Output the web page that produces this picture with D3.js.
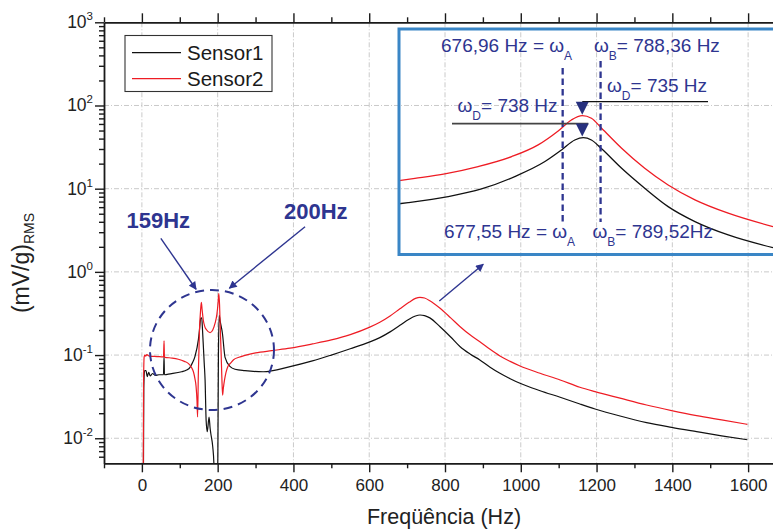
<!DOCTYPE html>
<html><head><meta charset="utf-8">
<script src="https://cdn.jsdelivr.net/npm/d3@7"></script>
<style>
body{margin:0;background:#fff}
svg{display:block}
text{font-family:"Liberation Sans",Arial,Helvetica,sans-serif}
</style>
</head><body>
<svg id="chart" width="773" height="529"></svg>
<script>
// ---- Spectrum data (frequency in Hz, amplitude in (mV/g) RMS) ----
const sensor1Freq = [4,5,7,11,14,18,22,28,35,45,57,58.5,59.5,61,70,105,118,127,133,140,149,152,155.4,158,160,162.3,164.5,166.8,169.5,172.5,177.3,180,181.8,187,190,191,199,200.5,202,204,207,212.5,219.5,233,246,272,320,391,450,500,550,600,628,655,681,705,722,734,746,760,787,815,840,866,892,918,945,972,998,1051,1104,1156,1196,1262,1332,1398,1464,1530,1598];
const sensor1Amp  = [0.003,0.04,0.065,0.065,0.055,0.062,0.056,0.06,0.057,0.058,0.058,0.097,0.058,0.058,0.059,0.063,0.066,0.0713,0.08,0.096,0.152,0.2,0.277,0.28,0.2,0.126,0.08,0.05,0.0166,0.012,0.018,0.0133,0.0115,0.0079,0.005,0.003,0.003,0.006,0.1,0.3,0.25,0.183,0.094,0.0726,0.0675,0.065,0.063,0.0726,0.085,0.1,0.119,0.143,0.162,0.19,0.228,0.27,0.295,0.303,0.298,0.28,0.219,0.165,0.126,0.103,0.0873,0.072,0.0604,0.052,0.0458,0.0373,0.0311,0.0258,0.0225,0.0185,0.0154,0.0135,0.012,0.0107,0.0096];

const sensor2Freq = [3.5,4.5,6,8,10,13,20,40,57,58.5,59.5,61,80,96,112,123,131,136,140,143,145.5,147,149,152,155,157,159,162,166,171,180,187,193,198,201,203,205,207,209,211,213,215,218,222,227,234,242,256,272,300,343,391,450,500,550,600,628,655,681,705,722,734,746,760,787,815,840,866,892,918,945,972,998,1051,1104,1156,1196,1262,1332,1398,1464,1530,1598];
const sensor2Amp  = [0.003,0.05,0.095,0.1,0.097,0.101,0.097,0.096,0.095,0.148,0.095,0.094,0.092,0.089,0.084,0.079,0.071,0.063,0.052,0.042,0.028,0.018,0.06,0.2,0.35,0.43,0.35,0.264,0.22,0.2,0.186,0.2,0.24,0.31,0.42,0.55,0.4,0.2,0.11,0.055,0.033,0.04,0.05,0.062,0.073,0.08,0.088,0.094,0.099,0.106,0.113,0.121,0.136,0.152,0.176,0.215,0.248,0.295,0.36,0.43,0.48,0.495,0.485,0.45,0.365,0.28,0.219,0.175,0.145,0.118,0.0975,0.084,0.074,0.0604,0.0502,0.041,0.0363,0.0303,0.0251,0.0215,0.0187,0.0166,0.0147];

// Detail view of the main resonance
const detailFreq1 = [195,222,340,438,536,625,674,713,738,762,792,851,919,988,1067,1165,1297];
const detailAmp1  = [0.0697,0.0715,0.0818,0.097,0.128,0.179,0.232,0.290,0.306,0.290,0.238,0.154,0.0986,0.0654,0.0468,0.0347,0.0261];
const detailFreq2 = [195,242,330,428,527,605,664,703,735,762,792,851,919,988,1067,1165,1297];
const detailAmp2  = [0.117,0.123,0.136,0.160,0.200,0.260,0.355,0.454,0.5,0.472,0.377,0.241,0.154,0.106,0.076,0.0564,0.0418];

// Half-power points and damped natural frequencies [sensor1, sensor2]
const omegaA = [677.55, 676.96];
const omegaB = [789.52, 788.36];
const omegaD = [738, 735];

const xTicks = [0,200,400,600,800,1000,1200,1400,1600];
const xMinor = [-100,100,300,500,700,900,1100,1300,1500,1700];
const yExponents = [-2,-1,0,1,2,3];
const seriesNames = ["Sensor1","Sensor2"];
const seriesColors = ["#111111","#ee1c24"];

const navy = "#2e3590";
const svg = d3.select("#chart");
svg.append("rect").attr("width",773).attr("height",529).attr("fill","#fff");

// ---- scales ----
const x = d3.scaleLinear().domain([-100,1700]).range([104,786]);
const y = d3.scaleLog().domain([0.005,1000]).range([463.3,22.3]);
const plotL = x.range()[0], plotR = x.range()[1], plotT = y.range()[1], plotB = y.range()[0];

// Detail panel scales
const inset = {x:399, y:29, w:380, h:225.5};
const ix = d3.scaleLinear().domain([195,1297]).range([399,773]);
const iy = d3.scaleLog().domain([0.0224,3.47]).range([254.5,29]);

const defs = svg.append("defs");
defs.append("clipPath").attr("id","plotClip").append("rect")
  .attr("x",plotL).attr("y",plotT).attr("width",plotR-plotL).attr("height",plotB-plotT);
defs.append("clipPath").attr("id","insetClip").append("rect")
  .attr("x",inset.x).attr("y",inset.y).attr("width",inset.w).attr("height",inset.h);
defs.append("marker").attr("id","arrow").attr("viewBox","0 0 10 10")
  .attr("refX",9).attr("refY",5).attr("markerWidth",10).attr("markerHeight",8)
  .attr("markerUnits","userSpaceOnUse").attr("orient","auto")
  .append("path").attr("d","M0,0 L10,5 L0,10 Z").attr("fill",navy);

// detail panel background
svg.append("rect").attr("x",inset.x).attr("y",inset.y).attr("width",inset.w).attr("height",inset.h).attr("fill","#fff");

// ---- grid ----
const grid = svg.append("g").attr("stroke","#c4c4c4").attr("stroke-width",0.9).attr("stroke-dasharray","5,2,1,2");
grid.selectAll("line.v").data(xTicks).join("line")
  .attr("x1",d=>x(d)).attr("x2",d=>x(d)).attr("y1",plotT).attr("y2",plotB);
grid.selectAll("line.h").data(yExponents.slice(0,-1)).join("line")
  .attr("x1",plotL).attr("x2",plotR).attr("y1",d=>y(Math.pow(10,d))).attr("y2",d=>y(Math.pow(10,d)));

// ---- curves ----
const line = d3.line().x(d=>x(d[0])).y(d=>y(Math.max(d[1],1e-4))).curve(d3.curveMonotoneX);
const curves = svg.append("g").attr("clip-path","url(#plotClip)");
const mainSeries = [d3.zip(sensor1Freq,sensor1Amp), d3.zip(sensor2Freq,sensor2Amp)];
mainSeries.forEach((s,i)=>{
  curves.append("path").datum(s).attr("d",line).attr("fill","none")
    .attr("stroke",seriesColors[i]).attr("stroke-width",1.2).attr("stroke-linejoin","round");
});

// ---- axes ----
function styleAxis(g){
  g.select(".domain").attr("stroke","#1a1a1a").attr("stroke-width",1.8);
  g.selectAll(".tick line").attr("stroke","#1a1a1a").attr("stroke-width",1.4);
}
const xb = svg.append("g").attr("transform",`translate(0,${plotB})`)
  .call(d3.axisBottom(x).tickValues(xTicks).tickSize(9).tickSizeOuter(0).tickPadding(7).tickFormat(d3.format("d")));
styleAxis(xb);
xb.selectAll(".tick text").attr("font-size",17).attr("fill","#222").attr("font-family","Liberation Sans, Arial, sans-serif");
const xbm = svg.append("g").attr("transform",`translate(0,${plotB})`)
  .call(d3.axisBottom(x).tickValues(xMinor).tickSize(5).tickSizeOuter(0).tickFormat(""));
styleAxis(xbm); xbm.select(".domain").remove();

const xt = svg.append("g").attr("transform",`translate(0,${plotT})`)
  .call(d3.axisTop(x).tickValues(xTicks).tickSize(9).tickSizeOuter(0).tickFormat(""));
styleAxis(xt);
const xtm = svg.append("g").attr("transform",`translate(0,${plotT})`)
  .call(d3.axisTop(x).tickValues(xMinor).tickSize(5).tickSizeOuter(0).tickFormat(""));
styleAxis(xtm); xtm.select(".domain").remove();

const yl = svg.append("g").attr("transform",`translate(${plotL},0)`)
  .call(d3.axisLeft(y).tickValues(yExponents.map(e=>Math.pow(10,e))).tickSize(9).tickSizeOuter(0).tickFormat(""));
styleAxis(yl);
const minorY = [];
yExponents.slice(0,-1).forEach(e=>{ for(let k=2;k<=9;k++) minorY.push(k*Math.pow(10,e)); });
[0.006,0.007,0.008,0.009].forEach(v=>minorY.push(v));
const ylm = svg.append("g").attr("transform",`translate(${plotL},0)`)
  .call(d3.axisLeft(y).tickValues(minorY).tickSize(5).tickSizeOuter(0).tickFormat(""));
styleAxis(ylm); ylm.select(".domain").remove();

// y tick labels as powers of ten
const ylab = svg.append("g").attr("font-size",17.5).attr("fill","#222");
yExponents.forEach(e=>{
  const t = ylab.append("text").attr("x",plotL-11).attr("y",y(Math.pow(10,e))+6).attr("text-anchor","end");
  t.append("tspan").text("10");
  t.append("tspan").attr("font-size",11.5).attr("dy",-8).text(e);
});

// axis titles
svg.append("text").attr("x",444).attr("y",524).attr("text-anchor","middle")
  .attr("font-size",21.5).attr("fill","#222").text("Freqüência (Hz)");
const yt = svg.append("text").attr("transform","translate(29,263) rotate(-90)")
  .attr("text-anchor","middle").attr("font-size",23).attr("fill","#222");
yt.append("tspan").text("(mV/g)");
yt.append("tspan").attr("font-size",14).attr("dy",5).text("RMS");

// ---- legend ----
const lg = svg.append("g");
lg.append("rect").attr("x",125).attr("y",35.5).attr("width",147).attr("height",56)
  .attr("fill","#fff").attr("stroke","#333").attr("stroke-width",1.1);
seriesNames.forEach((n,i)=>{
  const yy = 52.7 + i*26;
  lg.append("line").attr("x1",132).attr("x2",181).attr("y1",yy).attr("y2",yy)
    .attr("stroke",seriesColors[i]).attr("stroke-width",1.2);
  lg.append("text").attr("x",187).attr("y",yy+7).attr("font-size",20.5).attr("fill","#1a1a1a").text(n);
});

// ---- annotations on the low-frequency modes ----
svg.append("ellipse").attr("cx",x(185)).attr("cy",y(0.115)).attr("rx",62).attr("ry",60)
  .attr("fill","none").attr("stroke",navy).attr("stroke-width",2).attr("stroke-dasharray","9,6");
svg.append("text").attr("x",126.5).attr("y",227.5).attr("font-size",22).attr("font-weight","bold")
  .attr("fill",navy).text("159Hz");
svg.append("text").attr("x",284).attr("y",219).attr("font-size",22).attr("font-weight","bold")
  .attr("fill",navy).text("200Hz");
const arrows = [
  [[50,2.53],[143,0.618]],
  [[430.6,3.49],[230.9,0.636]],
  [[785,0.447],[901,1.234]]
];
arrows.forEach(a=>{
  svg.append("line").attr("x1",x(a[0][0])).attr("y1",y(a[0][1])).attr("x2",x(a[1][0])).attr("y2",y(a[1][1]))
    .attr("stroke",navy).attr("stroke-width",1.4).attr("marker-end","url(#arrow)");
});

// ---- detail panel ----
const ig = svg.append("g");
const iline = d3.line().x(d=>ix(d[0])).y(d=>iy(d[1])).curve(d3.curveMonotoneX);
const ic = ig.append("g").attr("clip-path","url(#insetClip)");
[d3.zip(detailFreq1,detailAmp1), d3.zip(detailFreq2,detailAmp2)].forEach((s,i)=>{
  ic.append("path").datum(s).attr("d",iline).attr("fill","none")
    .attr("stroke",seriesColors[i]).attr("stroke-width",1.3);
});

// half-power lines
const wA = d3.mean(omegaA), wB = d3.mean(omegaB);
[[wA,68],[wB,61]].forEach(([w,top])=>{
  ig.append("line").attr("x1",ix(w)).attr("x2",ix(w)).attr("y1",top).attr("y2",222)
    .attr("stroke",navy).attr("stroke-width",2.3).attr("stroke-dasharray","6.5,4");
});

// peak markers with reference lines
const peak2 = d3.max(detailAmp2), peak1 = d3.max(detailAmp1);
const cx2 = ix(omegaD[1]), tip2 = iy(peak2)-1, top2 = tip2-13;
const cx1 = ix(omegaD[1]), tip1 = iy(peak1)-1, top1 = tip1-13;
ig.append("line").attr("x1",cx2).attr("x2",708).attr("y1",top2).attr("y2",top2)
  .attr("stroke","#111").attr("stroke-width",1.4);
ig.append("line").attr("x1",452).attr("x2",cx1+6).attr("y1",top1).attr("y2",top1)
  .attr("stroke","#444").attr("stroke-width",1.6);
[[cx2,top2,tip2],[cx1,top1,tip1]].forEach(([cx,t,b])=>{
  ig.append("path").attr("d",`M${cx-6.5},${t} L${cx+6.5},${t} L${cx},${b} Z`).attr("fill","#27307e");
});

// labels
const lbl = ig.append("g").attr("fill",navy).attr("font-size",19);
function label(xp,yp,parts){
  const t = lbl.append("text").attr("x",xp).attr("y",yp);
  parts.forEach(p=>{
    if(p.sub){ t.append("tspan").attr("font-size",12).attr("dy",8).text(p.sub); }
    else { t.append("tspan").attr("dy",p.after?-8:0).text(p.t); }
  });
}
const fmt = v=>v.toFixed(2).replace(".",",");
label(441,52.3,[{t:`${fmt(omegaA[1])} Hz = ω`},{sub:"A"}]);
label(594,52.3,[{t:"ω"},{sub:"B"},{t:`= ${fmt(omegaB[1])} Hz`,after:true}]);
label(607,91.7,[{t:"ω"},{sub:"D"},{t:`= ${omegaD[1]} Hz`,after:true}]);
label(457.5,112.3,[{t:"ω"},{sub:"D"},{t:`= ${omegaD[0]} Hz`,after:true}]);
label(444,238.3,[{t:`${fmt(omegaA[0])} Hz = ω`},{sub:"A"}]);
label(592.5,238.3,[{t:"ω"},{sub:"B"},{t:`= ${fmt(omegaB[0])}Hz`,after:true}]);

ig.append("rect").attr("x",inset.x).attr("y",inset.y).attr("width",inset.w).attr("height",inset.h)
  .attr("fill","none").attr("stroke","#3a86c6").attr("stroke-width",3);
</script>
</body></html>
